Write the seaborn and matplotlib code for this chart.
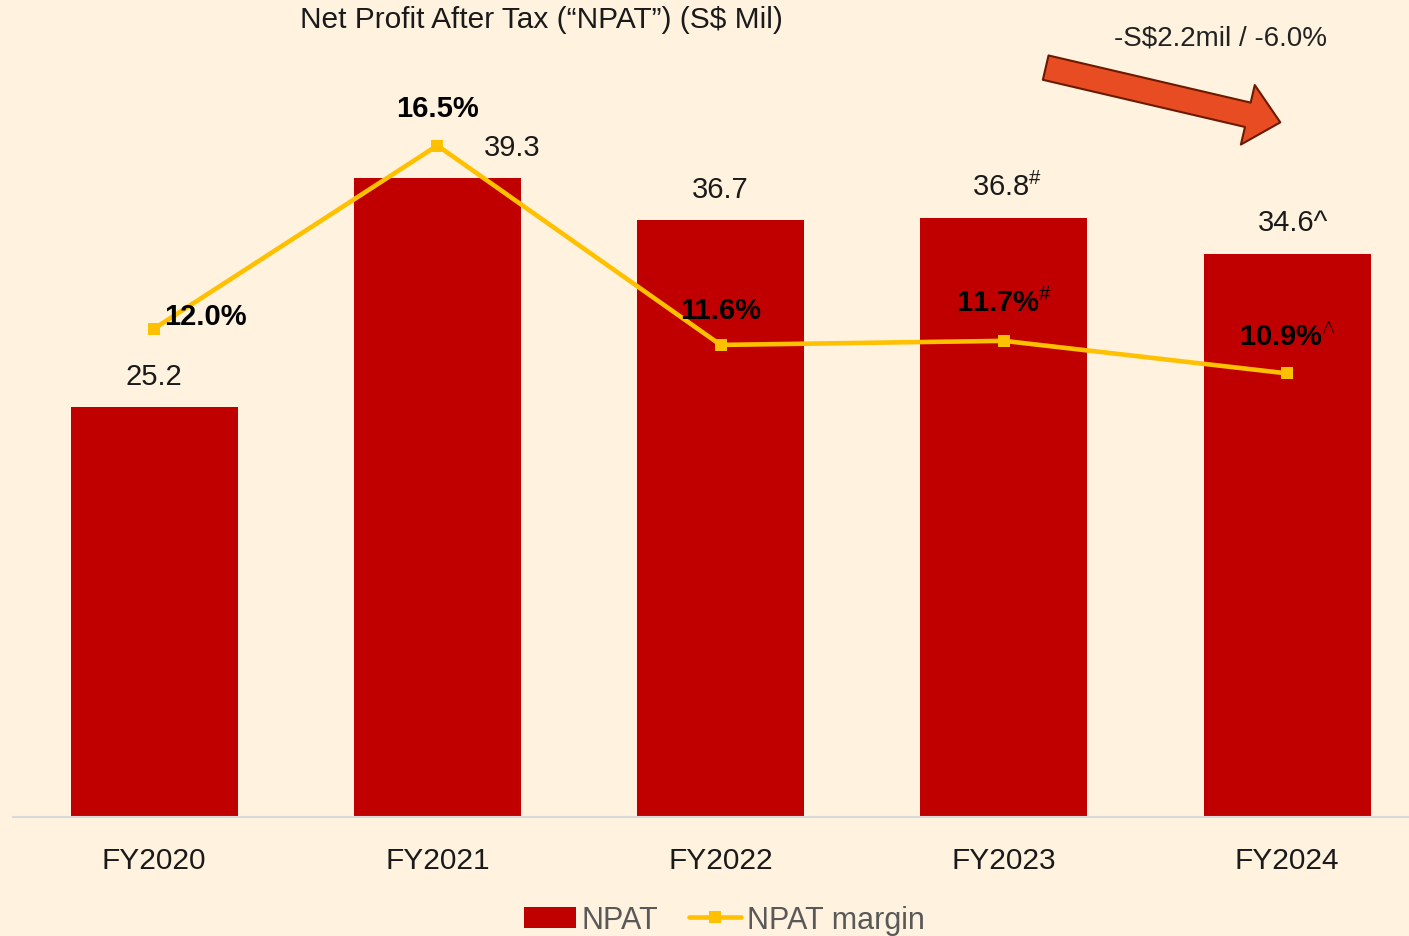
import matplotlib.pyplot as plt
import seaborn as sns
import numpy as np
from matplotlib.patches import Patch, FancyArrowPatch
from matplotlib.lines import Line2D

# data
years = ['FY2020', 'FY2021', 'FY2022', 'FY2023', 'FY2024']
npat = [25.2, 39.3, 36.7, 36.8, 34.6]
margin = [12.0, 16.5, 11.6, 11.7, 10.9]
npat_labels = ['25.2', '39.3', '36.7', '36.8$^{\\#}$', '34.6^']
margin_labels = ['12.0%', '16.5%', '11.6%', '11.7%$^{\\#}$', '10.9%$^{\\wedge}$']

bg = '#FFF3DF'
red = '#C00000'
gold = '#FFC000'

sns.set_theme(style='white')
plt.rcParams['font.family'] = ['Liberation Sans', 'DejaVu Sans']
plt.rcParams['mathtext.fontset'] = 'custom'
plt.rcParams['mathtext.rm'] = 'Liberation Sans'
plt.rcParams['mathtext.it'] = 'Liberation Sans'
plt.rcParams['mathtext.bf'] = 'Liberation Sans:bold'

fig = plt.figure(figsize=(14.09, 9.37), dpi=100, facecolor=bg)
ax = fig.add_axes([13/1409, 1 - 818/937, 1396/1409, 818/937])
ax.set_facecolor(bg)

sns.barplot(x=years, y=npat, color=red, width=0.59, saturation=1, linewidth=0, ax=ax)
ax.set_xlim(-0.498, 4.43)
ax.set_ylim(0, 50.28)

ax2 = ax.twinx()
sns.lineplot(x=np.arange(len(years)), y=margin, color=gold, lw=3.3, marker='s',
             markersize=9, markeredgewidth=0, ax=ax2)
ax2.set_ylim(0, 20.1)

for a in (ax, ax2):
    a.set_yticks([])
    a.set_ylabel('')
    for s in a.spines.values():
        s.set_visible(False)
ax.spines['bottom'].set_visible(True)
ax.spines['bottom'].set_color('#D9D9D9')
ax.spines['bottom'].set_linewidth(1.5)
ax.tick_params(axis='x', length=0, pad=21, labelsize=21.5, labelcolor='#1a1a1a')

# value labels
npat_off = [(0, 22), (54, 22), (0, 22), (2, 23), (4, 23)]
for i, (v, t) in enumerate(zip(npat, npat_labels)):
    ax.annotate(t, (i, v), xytext=npat_off[i], textcoords='offset points',
                ha='center', va='center', fontsize=21, color='#1a1a1a')

margin_off = [(37, 9), (0, 27), (0, 25), (0, 28), (0, 27)]
for i, (v, t) in enumerate(zip(margin, margin_labels)):
    ax2.annotate(t, (i, v), xytext=margin_off[i], textcoords='offset points',
                 ha='center', va='center', fontsize=21, fontweight='bold', color='black')

fig.text(541/1409, 1 - 20/937, 'Net Profit After Tax (\u201cNPAT\u201d) (S$ Mil)',
         ha='center', va='center', fontsize=21.5, color='#1a1a1a')

# change arrow
arr = FancyArrowPatch((1043/1409, 1 - 68/937), (1283/1409, 1 - 124/937),
                      transform=fig.transFigure, mutation_scale=10,
                      arrowstyle='simple,head_width=4.4,head_length=2.4,tail_width=1.8',
                      facecolor='#E84C22', edgecolor='#6b1a00', lw=1.5)
fig.patches.append(arr)
fig.text(1220/1409, 1 - 39/937, '-S$2.2mil / -6.0%', ha='center', va='center',
         fontsize=20, color='#222222')

handles = [Patch(facecolor=red, edgecolor='none'),
           Line2D([0], [0], color=gold, lw=3.3, marker='s', markersize=9, markeredgewidth=0)]
fig.legend(handles, ['NPAT', 'NPAT margin'], loc='center', bbox_to_anchor=(0.514, 1 - 921/937),
           ncol=2, frameon=False, fontsize=22, handlelength=1.7, handletextpad=0.2,
           columnspacing=1.0, labelcolor='#595959')

fig.savefig('out.png', dpi=100, facecolor=bg)
